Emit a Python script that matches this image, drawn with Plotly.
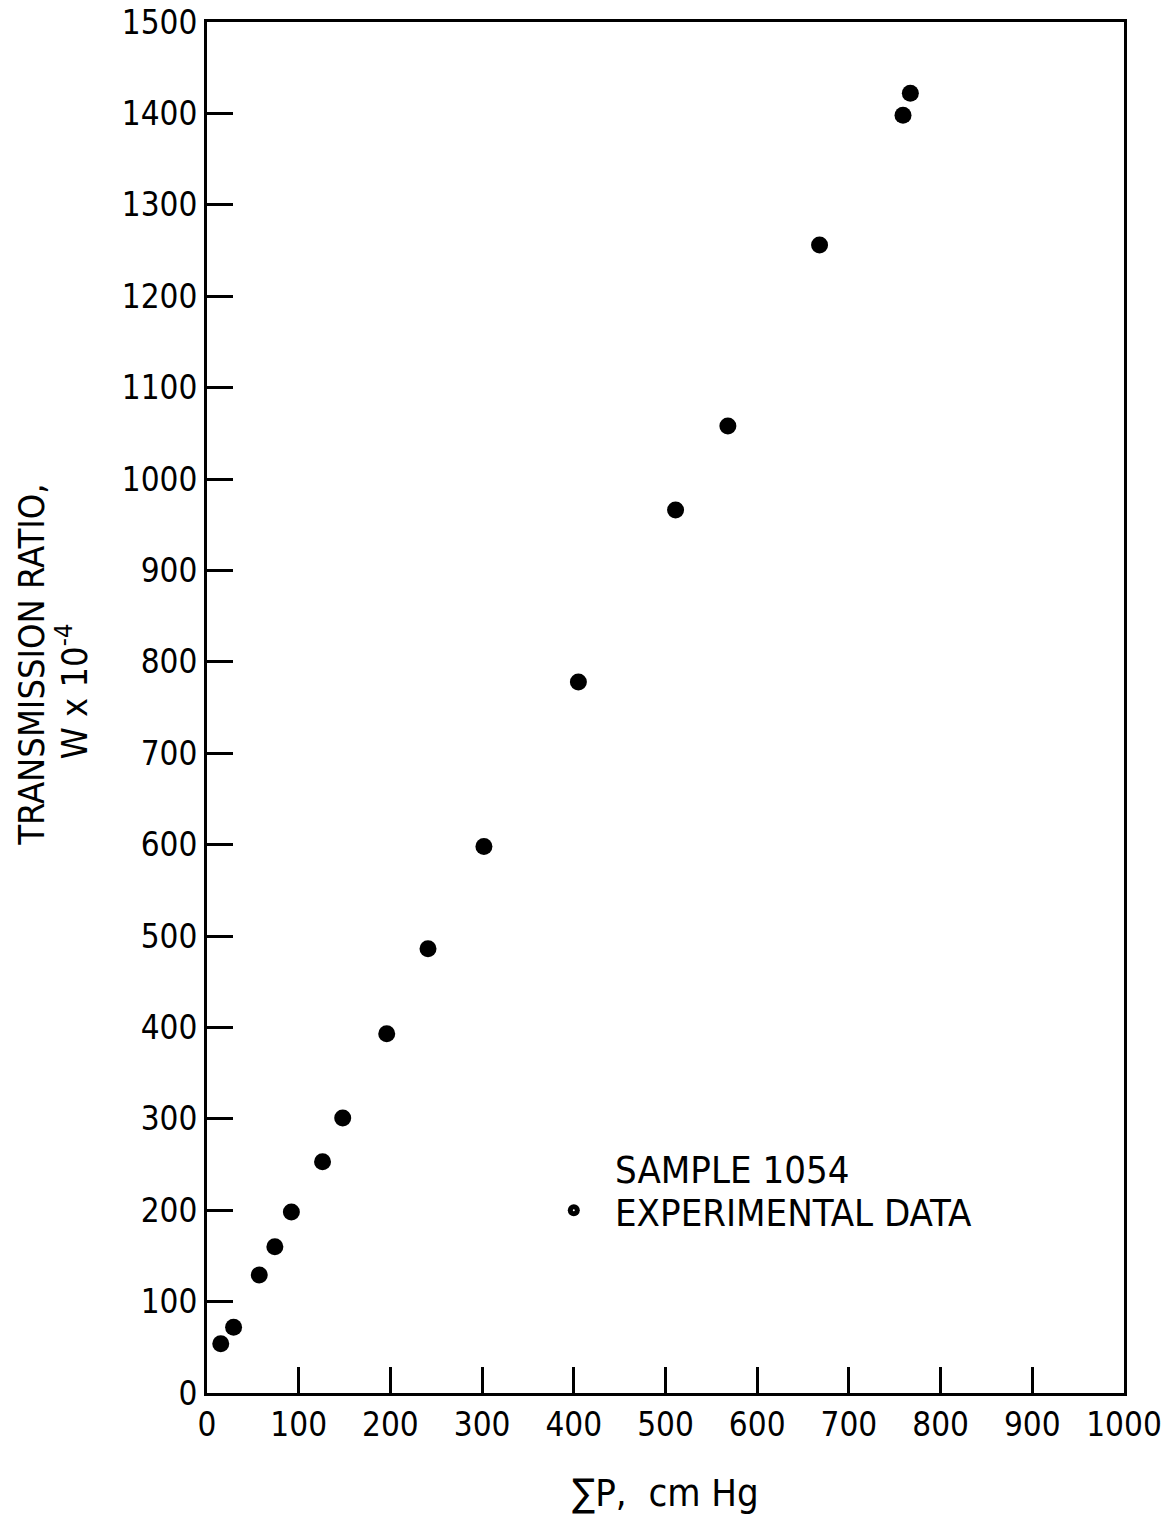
import plotly.graph_objects as go

# Total pressure (cm Hg) and transmission ratio W x 10^-4, sample 1054
pressure = [15, 29, 57, 74, 92, 126, 148, 196, 241, 302, 405, 511, 568, 668, 759, 767]
transmission = [54, 72, 129, 160, 198, 253, 301, 393, 486, 598, 778, 966, 1058, 1256, 1398, 1422]

x_ticks = [0, 100, 200, 300, 400, 500, 600, 700, 800, 900, 1000]
y_ticks = [0, 100, 200, 300, 400, 500, 600, 700, 800, 900, 1000, 1100, 1200, 1300, 1400, 1500]

legend_marker = (400, 200)
legend_title = "SAMPLE 1054"
legend_label = "EXPERIMENTAL DATA"

FONT = "Liberation Sans Narrow, DejaVu Sans Condensed, Arial Narrow, sans-serif"

fig = go.Figure()

# Experimental points: solid black discs
fig.add_trace(go.Scatter(
    x=pressure, y=transmission, mode="markers",
    marker=dict(symbol="circle", size=17, color="black"),
    showlegend=False, hoverinfo="x+y",
))

# In-plot key
fig.add_trace(go.Scatter(
    x=[legend_marker[0]], y=[legend_marker[1]], mode="markers",
    marker=dict(symbol="circle", size=12, color="black"),
    showlegend=False, hoverinfo="skip",
))
fig.add_trace(go.Scatter(
    x=[legend_marker[0]], y=[legend_marker[1]], mode="markers",
    marker=dict(symbol="circle", size=2, color="white"),
    showlegend=False, hoverinfo="skip",
))
fig.add_annotation(x=443, y=244, text=legend_title, showarrow=False,
                   xanchor="left", yanchor="middle",
                   font=dict(family=FONT, size=38, color="black"))
fig.add_annotation(x=443, y=197, text=legend_label, showarrow=False,
                   xanchor="left", yanchor="middle",
                   font=dict(family=FONT, size=38, color="black"))

# Y axis title (two rotated lines)
fig.add_annotation(x=-0.191, y=0.531, xref="paper", yref="paper",
                   text="TRANSMISSION RATIO,", textangle=-90, showarrow=False,
                   xanchor="center", yanchor="middle",
                   font=dict(family=FONT, size=36, color="black"))
fig.add_annotation(x=-0.147, y=0.512, xref="paper", yref="paper",
                   text="W x 10<sup>-4</sup>", textangle=-90, showarrow=False,
                   xanchor="center", yanchor="middle",
                   font=dict(family=FONT, size=36, color="black"))

axis_common = dict(
    showgrid=False, zeroline=False, automargin=False,
    showline=True, linecolor="black", linewidth=3, mirror=True,
    ticks="inside", ticklen=26, tickwidth=3, tickcolor="black",
    ticklabeloverflow="allow",
    tickfont=dict(family=FONT, size=33, color="black"),
)

fig.update_layout(
    width=1168, height=1518,
    margin=dict(l=207, r=44, t=22, b=125),
    paper_bgcolor="white", plot_bgcolor="white",
    xaxis=dict(range=[0, 1000], tickvals=x_ticks,
               ticktext=[str(v) for v in x_ticks],
               title=dict(text="∑P,  cm Hg", standoff=37,
                          font=dict(family=FONT, size=38, color="black")),
               **axis_common),
    yaxis=dict(range=[0, 1500], tickvals=y_ticks,
               ticktext=[str(v) for v in y_ticks],
               **axis_common),
)

fig.write_html("out.html")
